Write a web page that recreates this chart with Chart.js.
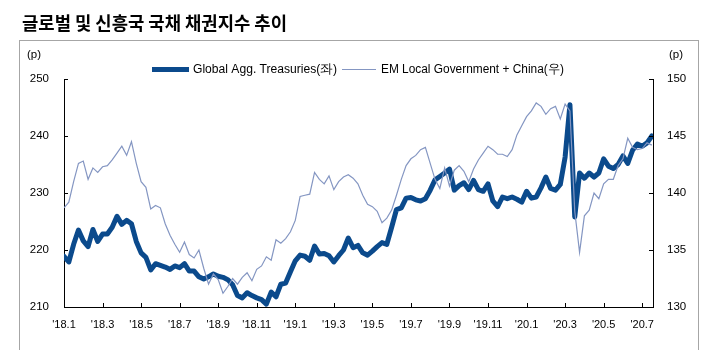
<!DOCTYPE html>
<html><head><meta charset="utf-8">
<script src="https://cdn.jsdelivr.net/npm/chart.js@4"></script>
<style>html,body{margin:0;padding:0;background:#fff}#wrap{width:725px;height:350px;position:relative}</style>
</head><body><div id="wrap"><canvas id="c" width="725" height="350"></canvas></div>
<script>
// tick labels (every 2 months, starting Jan 2018)
const xLabels = ["'18.1","'18.3","'18.5","'18.7","'18.9","'18.11","'19.1","'19.3","'19.5","'19.7","'19.9","'19.11","'20.1","'20.3","'20.5","'20.7"];
// observation spacing: weekly (~0.25 month)
const STEP = 0.25;
const X_MAX = 30.56;
// Global Agg. Treasuries (left axis)
const globalAgg = [
218.9,217.9,221.0,223.5,221.6,220.6,223.6,221.5,222.8,222.8,224.0,225.9,224.5,
225.2,224.6,221.5,219.5,218.7,216.5,217.6,217.3,217.0,216.6,217.2,216.9,
217.6,216.3,216.3,215.3,214.9,215.3,215.8,215.4,215.2,214.8,213.9,212.0,
211.6,212.5,212.0,211.6,211.3,210.5,212.6,211.8,214.0,214.2,216.2,218.1,
219.1,218.9,218.2,220.7,219.3,219.4,219.0,217.9,219.0,220.0,222.1,220.4,
220.8,219.5,219.1,219.8,220.6,221.3,221.0,224.0,227.1,227.4,229.1,229.2,
228.8,228.6,229.0,230.5,232.3,232.9,233.5,234.2,230.5,231.3,231.8,230.6,
232.2,230.6,230.3,231.6,228.6,227.6,229.3,229.0,229.3,228.9,228.4,230.3,
229.1,229.3,230.9,232.8,230.8,230.5,231.5,236.3,245.5,225.8,233.5,232.6,
233.5,232.8,233.5,236.0,234.7,234.3,235.0,236.5,235.2,237.5,238.6,238.2,
238.8,240.0];
// EM Local Government + China (right axis)
const emLocal = [
138.7,139.2,141.0,142.6,142.8,141.2,142.2,141.8,142.3,142.4,142.9,143.5,144.1,
143.3,144.5,142.6,141.0,140.5,138.6,138.9,138.7,137.3,136.3,135.5,134.8,
135.7,134.6,134.3,135.0,133.4,132.0,132.9,132.4,131.2,131.8,132.5,132.0,
132.6,133.0,132.3,133.3,133.6,134.4,134.1,135.9,135.6,136.0,136.6,137.6,
139.7,139.8,139.9,141.8,141.2,140.8,141.5,140.3,141.0,141.4,141.6,141.3,
140.8,139.8,139.0,138.8,138.4,137.4,137.8,138.5,139.8,141.2,142.4,143.0,
143.3,143.8,144.0,142.6,141.2,140.4,142.2,140.6,142.0,142.4,141.9,141.0,
142.1,142.9,143.5,144.1,143.8,143.4,143.4,143.2,143.8,145.1,145.9,146.7,
147.2,147.9,147.6,146.9,147.4,147.6,146.5,147.8,147.2,138.4,134.8,138.0,
138.5,140.0,139.5,140.8,141.2,141.2,142.4,143.0,144.8,144.0,143.8,143.9,
144.4,144.2];

const seriesNames = ["Global Agg. Treasuries(좌)", "EM Local Government + China(우)"];
const titleText = "글로벌 및 신흥국 국채 채권지수 추이";
const THICK = '#0b4a8c', THIN = '#8496c2';
const FONT = '"Liberation Sans",Arial,sans-serif';

const toXY = arr => arr.map((v, i) => ({x: i * STEP, y: v}));

function fitText(ctx, text, x, y, width) {
  const w = ctx.measureText(text).width;
  ctx.save(); ctx.translate(x, y); ctx.scale(Math.min(1, width / w), 1);
  ctx.fillText(text, 0, 0); ctx.restore();
}

const deco = {
  id: 'deco',
  afterDraw(chart) {
    const ctx = chart.ctx;
    const {x, y, y1} = chart.scales;
    ctx.save();
    // frame
    ctx.strokeStyle = '#a6a6a6'; ctx.lineWidth = 1;
    ctx.strokeRect(19.5, 40.5, 679, 320);
    // title
    ctx.fillStyle = '#000';
    ctx.font = 'bold 18px "Noto Sans CJK KR", sans-serif';
    ctx.textBaseline = 'middle'; ctx.textAlign = 'left';
    fitText(ctx, titleText, 22, 23, 265);
    // unit labels
    ctx.font = '11.5px ' + FONT;
    ctx.textAlign = 'center';
    ctx.fillText('(p)', 34, 55);
    ctx.fillText('(p)', 676, 55);
    // inward ticks
    ctx.strokeStyle = '#000'; ctx.lineWidth = 1;
    ctx.beginPath();
    y.ticks.forEach(t => { const p = Math.round(y.getPixelForValue(t.value)) + 0.5; ctx.moveTo(x.left, p); ctx.lineTo(x.left + 4, p); });
    y1.ticks.forEach(t => { const p = Math.round(y1.getPixelForValue(t.value)) + 0.5; ctx.moveTo(x.right, p); ctx.lineTo(x.right - 4, p); });
    x.ticks.forEach(t => { const p = Math.round(x.getPixelForValue(t.value)) + 0.5; ctx.moveTo(p, y.bottom); ctx.lineTo(p, y.bottom - 4); });
    ctx.stroke();
    // legend
    const ly = 69.5;
    const ds = chart.data.datasets;
    ctx.font = '12.5px ' + FONT; ctx.textAlign = 'left'; ctx.textBaseline = 'middle';
    ctx.lineCap = 'butt';
    ctx.strokeStyle = ds[1].borderColor; ctx.lineWidth = 5;
    ctx.beginPath(); ctx.moveTo(152, ly); ctx.lineTo(189, ly); ctx.stroke();
    ctx.fillStyle = '#000'; fitText(ctx, ds[1].label, 193, ly, 144);
    ctx.strokeStyle = ds[0].borderColor; ctx.lineWidth = 1.2;
    ctx.beginPath(); ctx.moveTo(342, ly); ctx.lineTo(376, ly); ctx.stroke();
    fitText(ctx, ds[0].label, 381, ly, 183);
    ctx.restore();
  }
};

new Chart(document.getElementById('c'), {
  type: 'line',
  data: {
    datasets: [
      {label: seriesNames[1], data: toXY(emLocal), yAxisID: 'y1', borderColor: THIN, borderWidth: 1.2, pointRadius: 0, tension: 0, order: 1},
      {label: seriesNames[0], data: toXY(globalAgg), yAxisID: 'y', borderColor: THICK, borderWidth: 5, pointRadius: 0, tension: 0, borderJoinStyle: 'round', borderCapStyle: 'round', order: 2}
    ]
  },
  options: {
    responsive: false, animation: false, devicePixelRatio: 1,
    layout: {padding: {top: 79, left: 0, right: 0, bottom: 0}},
    plugins: {legend: {display: false}, tooltip: {enabled: false}},
    scales: {
      x: {
        type: 'linear', min: 0, max: X_MAX, position: 'bottom',
        grid: {display: false, drawTicks: false},
        border: {display: true, color: '#000', width: 1},
        afterBuildTicks: s => { s.ticks = xLabels.map((_, i) => ({value: i * 2})); },
        ticks: {font: {family: FONT, size: 11}, color: '#000', padding: 11, maxRotation: 0, autoSkip: false,
                callback: v => xLabels[Math.round(v / 2)]},
        afterFit: s => { s.height = 43; }
      },
      y: {
        position: 'left', min: 210, max: 250,
        grid: {display: false, drawTicks: false},
        border: {display: true, color: '#000', width: 1},
        ticks: {stepSize: 10, font: {family: FONT, size: 11.5}, color: '#000', padding: 15},
        afterFit: s => { s.width = 64; }
      },
      y1: {
        position: 'right', min: 130, max: 150,
        grid: {display: false, drawTicks: false},
        border: {display: true, color: '#000', width: 1},
        ticks: {stepSize: 5, font: {family: FONT, size: 11.5}, color: '#000', padding: 14},
        afterFit: s => { s.width = 72; }
      }
    }
  },
  plugins: [deco]
});
</script></body></html>
